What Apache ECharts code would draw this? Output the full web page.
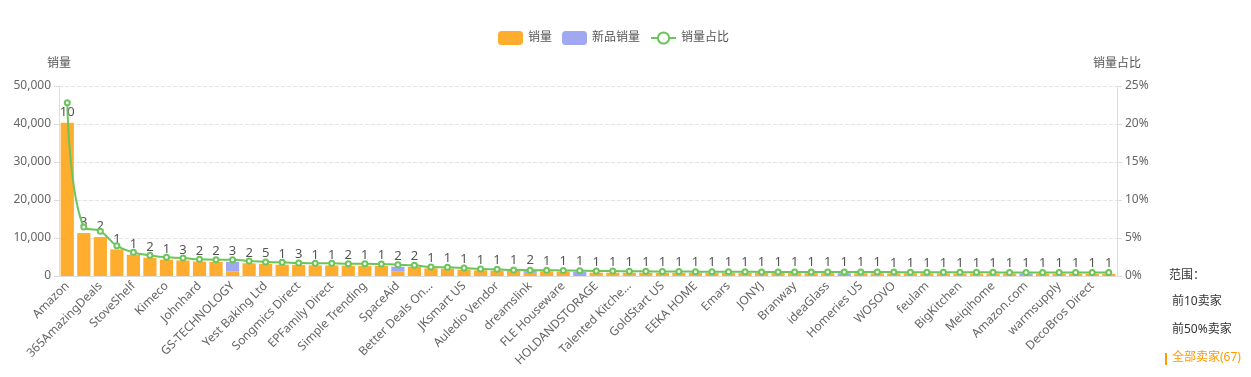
<!DOCTYPE html>
<html>
<head>
<meta charset="utf-8">
<script src="https://cdn.jsdelivr.net/npm/echarts@6/dist/echarts.min.js"></script>
<style>
  html, body { margin: 0; padding: 0; background: #fff; }
  #chart { width: 1251px; height: 377px; }
</style>
</head>
<body>
<div id="chart"></div>
<script>
// sellers, sorted by total sales (every other one is labelled on the axis)
const sellers = [
  'Amazon', 'SimpleHouseware', '365AmazingDeals', 'mDesign Store', 'StoveShelf', 'YouCopia',
  'Kimeco', 'Lifewit', 'Johnhard', 'Cabinet Organizer', 'GS-TECHNOLOGY', 'Sorbus',
  'Yest Baking Ltd', 'iDesign', 'Songmics Direct', 'Honey-Can-Do', 'EPFamily Direct', 'DecoBros',
  'Simple Trending', 'Kitsure', 'SpaceAid', 'Vtopmart', 'Better Deals Online', 'Wetheny',
  'JKsmart US', 'Sterilite', 'Auledio Vendor', 'ZPC', 'dreamslink', 'Clear Stack',
  'FLE Houseware', 'Puricon', 'HOLDANDSTORAGE', 'Utopia Deals', 'Talented Kitchen', 'Spectrum',
  'GoldStart US', 'Seville', 'EEKA HOME', 'Storage Maniac', 'Emars', 'Hudgan',
  'JONYJ', 'Nex Home', 'Branway', 'VERONLY', 'ideaGlass', 'Kootek',
  'Homeries US', 'Lynk', 'WOSOVO', 'Ultra Storage', 'feulam', 'SANNO',
  'BigKitchen', 'Zober', 'Meiqihome', 'Tomorotec', 'Amazon.com', 'Copco',
  'warmsupply', 'Bextsware', 'DecoBros Direct', 'Kamenstein'
];

// 销量 (orange part of the stack)
const salesValues = [
  40300, 11300, 10260, 7000, 5600, 4800, 4300, 4100, 3800, 3700,
  1230, 3340, 3160, 2980, 2950, 2800, 2780, 2700, 2680, 2630,
  1140, 2420, 2020, 1930, 1670, 1490, 1400, 1320, 820, 1230,
  1140, 0, 880, 870, 860, 850, 840, 830, 820, 810,
  800, 790, 780, 770, 760, 750, 740, 0, 730, 720,
  710, 700, 690, 680, 670, 660, 650, 640, 0, 620,
  610, 600, 590, 580
];

// 新品销量 (blue part of the stack)
const newSalesValues = [
  0, 0, 0, 0, 0, 0, 0, 0, 0, 0,
  2450, 0, 0, 0, 0, 0, 0, 0, 0, 0,
  1310, 0, 0, 0, 0, 0, 0, 0, 480, 0,
  0, 1110, 0, 0, 0, 0, 0, 0, 0, 0,
  0, 0, 0, 0, 0, 0, 0, 735, 0, 0,
  0, 0, 0, 0, 0, 0, 0, 0, 630, 0,
  0, 0, 0, 0
];

// 销量占比 (%)
const shareValues = [
  22.8, 6.45, 5.88, 3.99, 3.11, 2.72, 2.46, 2.37, 2.19, 2.15,
  2.15, 1.97, 1.84, 1.80, 1.71, 1.67, 1.67, 1.62, 1.62, 1.58,
  1.49, 1.40, 1.18, 1.15, 1.05, 0.92, 0.88, 0.79, 0.77, 0.76,
  0.74, 0.70, 0.66, 0.65, 0.62, 0.61, 0.60, 0.59, 0.57, 0.56,
  0.55, 0.55, 0.54, 0.54, 0.53, 0.53, 0.53, 0.53, 0.52, 0.51,
  0.51, 0.50, 0.50, 0.49, 0.49, 0.48, 0.48, 0.47, 0.47, 0.46,
  0.46, 0.45, 0.45, 0.45
];

// product count shown above each bar
const productCounts = [
  10, 3, 2, 1, 1, 2, 1, 3, 2, 2,
  3, 2, 5, 1, 3, 1, 1, 2, 1, 1,
  2, 2, 1, 1, 1, 1, 1, 1, 2, 1,
  1, 1, 1, 1, 1, 1, 1, 1, 1, 1,
  1, 1, 1, 1, 1, 1, 1, 1, 1, 1,
  1, 1, 1, 1, 1, 1, 1, 1, 1, 1,
  1, 1, 1, 1
];

const rangeLabels = ['范围：', '前10卖家', '前50%卖家', '全部卖家(67)'];

const FONT = "'Noto Sans', 'Noto Sans CJK SC', sans-serif";
const ORANGE = '#FFAD2E';
const BLUE = '#A0A8F2';
const GREEN = '#6CC55A';

const chart = echarts.init(document.getElementById('chart'));

chart.setOption({
  animation: false,
  textStyle: { fontFamily: FONT },
  legend: {
    top: 26,
    left: 493,
    itemWidth: 25,
    itemHeight: 14,
    itemGap: 10,
    textStyle: { color: '#555', fontSize: 12 },
    data: [
      { name: '销量', icon: 'roundRect' },
      { name: '新品销量', icon: 'roundRect' },
      { name: '销量占比' }
    ]
  },
  grid: { left: 59, right: 134, top: 86, bottom: 101 },
  xAxis: {
    type: 'category',
    data: sellers,
    axisLine: { lineStyle: { color: '#ddd' } },
    axisTick: { lineStyle: { color: '#ddd' } },
    axisLabel: {
      interval: 1,
      rotate: 45,
      color: '#666',
      fontSize: 12,
      formatter: (name) => (name.length > 15 ? name.slice(0, 15) + '...' : name)
    }
  },
  yAxis: [
    {
      type: 'value',
      name: '销量',
      nameGap: 16,
      nameTextStyle: { color: '#555', fontSize: 12, align: 'center' },
      min: 0,
      max: 50000,
      interval: 10000,
      axisLine: { show: true, lineStyle: { color: '#ddd' } },
      axisTick: { show: true, lineStyle: { color: '#ddd' } },
      axisLabel: {
        color: '#666',
        fontSize: 12,
        formatter: (v) => v.toLocaleString('en-US')
      },
      splitLine: { lineStyle: { color: '#e3e3e3', type: 'dashed' } }
    },
    {
      type: 'value',
      name: '销量占比',
      nameGap: 16,
      nameTextStyle: { color: '#555', fontSize: 12, align: 'center' },
      min: 0,
      max: 25,
      interval: 5,
      axisLine: { show: true, lineStyle: { color: '#ddd' } },
      axisTick: { show: true, lineStyle: { color: '#ddd' } },
      axisLabel: { color: '#666', fontSize: 12, formatter: '{value}%' },
      splitLine: { show: false }
    }
  ],
  series: [
    {
      name: '销量',
      type: 'bar',
      stack: 'sales',
      barCategoryGap: '20%',
      itemStyle: { color: ORANGE },
      data: salesValues
    },
    {
      name: '新品销量',
      type: 'bar',
      stack: 'sales',
      itemStyle: { color: BLUE },
      label: {
        show: true,
        position: 'top',
        distance: 4,
        color: '#555',
        fontSize: 13,
        formatter: (p) => productCounts[p.dataIndex]
      },
      data: newSalesValues
    },
    {
      name: '销量占比',
      type: 'line',
      yAxisIndex: 1,
      smooth: true,
      symbol: 'emptyCircle',
      symbolSize: 5,
      lineStyle: { color: GREEN, width: 2 },
      itemStyle: { color: GREEN, borderWidth: 1 },
      data: shareValues
    }
  ],
  graphic: [
    { type: 'text', left: 1169, top: 270, style: { text: rangeLabels[0], fill: '#333', fontSize: 12, fontFamily: FONT } },
    { type: 'text', left: 1172, top: 296, style: { text: rangeLabels[1], fill: '#333', fontSize: 12, fontFamily: FONT } },
    { type: 'text', left: 1172, top: 324, style: { text: rangeLabels[2], fill: '#333', fontSize: 12, fontFamily: FONT } },
    { type: 'rect', left: 1165, top: 353, shape: { width: 2, height: 12 }, style: { fill: '#FF9900' } },
    { type: 'text', left: 1172, top: 352, style: { text: rangeLabels[3], fill: '#FF9900', fontSize: 12, fontFamily: FONT } }
  ]
});
</script>
</body>
</html>
